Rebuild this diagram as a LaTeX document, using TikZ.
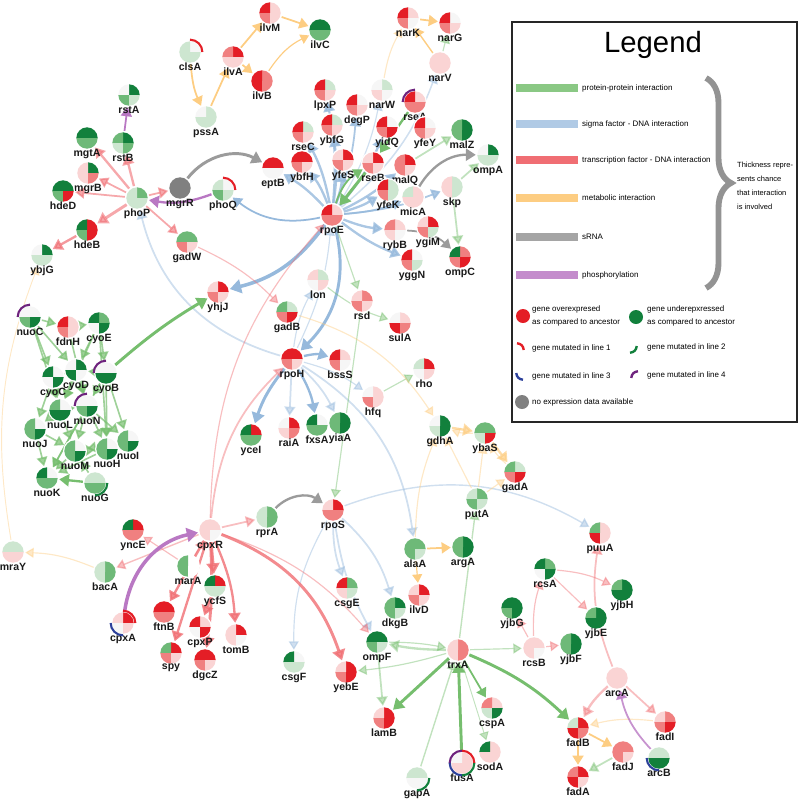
\documentclass[tikz,border=0pt]{standalone}
\usepackage{fontspec}
\setmainfont{Liberation Sans}
\usetikzlibrary{arrows.meta,positioning,decorations.pathreplacing}
\pgfdeclarelayer{bg}
\pgfsetlayers{bg,main}

\definecolor{Rd}{RGB}{228,30,38}
\definecolor{Rm}{RGB}{240,128,128}
\definecolor{Rp}{RGB}{250,212,212}
\definecolor{Gd}{RGB}{18,128,60}
\definecolor{Gm}{RGB}{110,185,120}
\definecolor{Gp}{RGB}{205,230,208}
\definecolor{Wh}{RGB}{246,246,246}
\definecolor{Gy}{RGB}{128,128,128}
\definecolor{Mb}{RGB}{45,65,155}
\definecolor{Mp}{RGB}{110,35,125}
\definecolor{ppiC}{RGB}{118,190,110}
\definecolor{sigC}{RGB}{150,185,220}
\definecolor{tfC}{RGB}{240,110,115}
\definecolor{metC}{RGB}{253,205,130}
\definecolor{srnaC}{RGB}{155,155,155}
\definecolor{phosC}{RGB}{185,120,195}

\newcommand{\gr}{0.32cm}
\newcommand{\gene}[7]{%
  \node[gene] (#1) at (#2,#3) {};
  \fill[#4] (#1.center) -- ++(0:\gr) arc[start angle=0,end angle=90,radius=\gr] -- cycle;
  \fill[#5] (#1.center) -- ++(90:\gr) arc[start angle=90,end angle=180,radius=\gr] -- cycle;
  \fill[#6] (#1.center) -- ++(180:\gr) arc[start angle=180,end angle=270,radius=\gr] -- cycle;
  \fill[#7] (#1.center) -- ++(270:\gr) arc[start angle=270,end angle=360,radius=\gr] -- cycle;
  \node[glab,below=-1pt of #1] (#1-l) {#1};
}
\newcommand{\mut}[3]{%
  \draw[#2,line width=1.8pt] ([shift={(#3:0.37cm)}]#1.center) arc[start angle=#3,delta angle=90,radius=0.37cm];
}

\begin{document}
\begin{tikzpicture}[
  x=0.03cm,y=-0.03cm,
  gene/.style={circle,fill=white,minimum size=0.72cm,inner sep=0pt},
  glab/.style={font=\fontsize{9}{10}\selectfont\bfseries,inner sep=0pt,text=black!90},
  gtip/.style={-{Triangle[length=6pt 1.2,width=7pt 1.6]}},
  ppi/.style={gtip,draw=ppiC,line width=#1},
  sig/.style={gtip,draw=sigC,line width=#1},
  tf/.style={gtip,draw=tfC,line width=#1},
  met/.style={gtip,draw=metC,line width=#1},
  srna/.style={gtip,draw=srnaC,line width=#1},
  phos/.style={gtip,draw=phosC,line width=#1},
  pale/.style={opacity=.45},
  legtxt/.style={font=\fontsize{6.8}{10.5}\selectfont,inner sep=0pt,anchor=west},
  legbar/.style={line width=7pt}
]
\useasboundingbox (0,0) rectangle (800,801);

\gene{clsA}{190}{52}{Wh}{Gp}{Gp}{Gp}
\gene{ilvA}{233}{57}{Rd}{Rm}{Rp}{Rp}
\gene{ilvB}{262}{81}{Rm}{Rd}{Rd}{Rm}
\gene{ilvM}{270}{13}{Rp}{Rd}{Rm}{Rp}
\gene{ilvC}{320}{30}{Gd}{Gd}{Gm}{Gm}
\gene{pssA}{206}{117}{Gp}{Wh}{Gp}{Gp}
\gene{narK}{408}{18}{Rp}{Rd}{Rm}{Wh}
\gene{narG}{450}{23}{Wh}{Rd}{Rm}{Rp}
\gene{narV}{440}{63}{Rp}{Rp}{Rp}{Rp}
\gene{narW}{382}{90}{Gp}{Wh}{Rp}{Wh}
\gene{lpxP}{325}{90}{Gp}{Rd}{Rm}{Rp}
\gene{degP}{357}{105}{Wh}{Rd}{Rm}{Rp}
\gene{rseA}{415}{102}{Rp}{Rd}{Rm}{Rm}
\gene{ybfG}{332}{125}{Gp}{Rd}{Rm}{Rp}
\gene{rseC}{303}{132}{Gp}{Rd}{Rm}{Rp}
\gene{yidQ}{387}{127}{Wh}{Rd}{Rm}{Rd}
\gene{yfeY}{425}{128}{Wh}{Rd}{Rm}{Rp}
\gene{malZ}{462}{130}{Gd}{Gm}{Gm}{Gd}
\gene{ompA}{488}{155}{Gd}{Wh}{Gp}{Gp}
\gene{ybfH}{302}{162}{Rd}{Rd}{Rm}{Rp}
\gene{yfeS}{343}{160}{Rd}{Rp}{Rm}{Rp}
\gene{rseB}{373}{163}{Rd}{Rp}{Rm}{Rp}
\gene{malQ}{405}{165}{Rd}{Rm}{Rm}{Rp}
\gene{skp}{452}{187}{Gp}{Rp}{Rp}{Gp}
\gene{yfeK}{388}{190}{Gp}{Rd}{Rm}{Gp}
\gene{micA}{413}{197}{Rp}{Gp}{Rp}{Rp}
\gene{rpoE}{332}{215}{Rp}{Rd}{Rm}{Rm}
\gene{eptB}{273}{168}{Rd}{Rd}{Wh}{Wh}
\gene{rybB}{395}{230}{Rp}{Rm}{Rp}{Wh}
\gene{ygiM}{428}{227}{Rd}{Rp}{Rm}{Gp}
\gene{yggN}{412}{260}{Wh}{Rd}{Rm}{Gp}
\gene{ompC}{460}{257}{Rm}{Gd}{Rm}{Rd}
\gene{lon}{318}{280}{Gp}{Rp}{Wh}{Rp}
\gene{gadB}{287}{312}{Gp}{Gm}{Rm}{Rd}
\gene{rsd}{362}{301}{Rm}{Rp}{Rm}{Rp}
\gene{sulA}{400}{323}{Rp}{Wh}{Rd}{Rm}
\gene{rpoH}{292}{359}{Rd}{Rd}{Rm}{Rp}
\gene{bssS}{340}{360}{Rp}{Rd}{Rm}{Wh}
\gene{rho}{424}{369}{Rd}{Gp}{Wh}{Rp}
\gene{hfq}{373}{397}{Rp}{Wh}{Rm}{Rp}
\gene{yceI}{251}{435}{Rd}{Gd}{Gm}{Gm}
\gene{raiA}{289}{428}{Rd}{Wh}{Rp}{Rm}
\gene{fxsA}{317}{425}{Wh}{Gd}{Gm}{Gm}
\gene{yiaA}{340}{423}{Gd}{Gm}{Gm}{Gd}
\gene{gdhA}{440}{426}{Gd}{Wh}{Gp}{Gd}
\gene{ybaS}{485}{433}{Gm}{Gm}{Gp}{Rd}
\gene{gadA}{515}{472}{Gp}{Gm}{Rm}{Rd}
\gene{putA}{477}{499}{Gm}{Gp}{Gm}{Gp}
\gene{yhjJ}{218}{292}{Rd}{Rp}{Rm}{Rp}
\gene{rstA}{129}{95}{Gd}{Wh}{Gm}{Gp}
\gene{rstB}{123}{143}{Gd}{Gm}{Gp}{Gm}
\gene{mgtA}{87}{138}{Gd}{Gd}{Gm}{Gm}
\gene{mgrB}{88}{173}{Gd}{Rp}{Rp}{Rm}
\gene{hdeD}{63}{191}{Gd}{Gd}{Gm}{Rd}
\gene{phoP}{137}{198}{Gm}{Gp}{Gp}{Gp}
\gene{mgrR}{180}{188}{Gy}{Gy}{Gy}{Gy}
\gene{phoQ}{223}{190}{Wh}{Gp}{Gm}{Gp}
\gene{hdeB}{87}{230}{Rd}{Gd}{Gm}{Rd}
\gene{gadW}{187}{242}{Gm}{Gm}{Rm}{Rp}
\gene{ybjG}{42}{255}{Gd}{Wh}{Gp}{Gp}
\gene{nuoC}{30}{317}{Wh}{Wh}{Gm}{Gd}
\gene{fdnH}{68}{327}{Rp}{Rd}{Rm}{Rp}
\gene{cyoE}{99}{323}{Gm}{Gd}{Wh}{Gd}
\gene{cyoD}{76}{370}{Gd}{Wh}{Gd}{Wh}
\gene{cyoB}{106}{373}{Wh}{Wh}{Gd}{Gd}
\gene{cyoC}{53}{377}{Wh}{Gd}{Wh}{Gd}
\gene{nuoL}{60}{410}{Wh}{Gm}{Gd}{Gd}
\gene{nuoN}{87}{406}{Wh}{Wh}{Gm}{Gd}
\gene{nuoJ}{35}{429}{Wh}{Gm}{Gm}{Gd}
\gene{nuoI}{128}{441}{Wh}{Gm}{Gm}{Gd}
\gene{nuoM}{75}{451}{Wh}{Gm}{Gm}{Gd}
\gene{nuoH}{107}{449}{Wh}{Gm}{Gm}{Gd}
\gene{nuoK}{47}{478}{Wh}{Gd}{Gm}{Gm}
\gene{nuoG}{95}{483}{Gp}{Gp}{Gm}{Gm}
\gene{mraY}{13}{552}{Gp}{Gp}{Rp}{Rp}
\gene{bacA}{105}{572}{Gm}{Gp}{Gp}{Gm}
\gene{yncE}{133}{530}{Rd}{Gd}{Rm}{Rm}
\gene{cpxR}{210}{530}{Rp}{Rp}{Rp}{Wh}
\gene{marA}{188}{566}{white}{Gm}{Gm}{white}
\gene{ycfS}{215}{586}{Rd}{Gd}{Gp}{Gp}
\gene{ftnB}{164}{612}{Rd}{Rd}{Rm}{Rm}
\gene{cpxA}{123}{623}{Rd}{Rp}{Wh}{Rp}
\gene{cpxP}{200}{627}{Rp}{Rd}{Wh}{Rd}
\gene{tomB}{236}{635}{Rd}{Rp}{Rp}{Wh}
\gene{spy}{171}{653}{Rd}{Gm}{Rm}{Rp}
\gene{dgcZ}{205}{660}{Rd}{Rd}{Rm}{Rp}
\gene{rprA}{267}{517}{Gm}{Gp}{Gp}{Gm}
\gene{csgF}{294}{662}{Wh}{Gd}{Gp}{Gp}
\gene{rpoS}{333}{510}{Rd}{Rp}{Rm}{Rm}
\gene{alaA}{415}{549}{Gm}{Gm}{Gm}{Gp}
\gene{argA}{463}{547}{Gd}{Gm}{Gm}{Gd}
\gene{csgE}{347}{588}{Gm}{Rd}{Rp}{Gp}
\gene{ilvD}{419}{595}{Rd}{Rp}{Rm}{Rp}
\gene{dkgB}{395}{608}{Gd}{Gm}{Gm}{Gp}
\gene{yjbG}{512}{608}{Gd}{Gd}{Gm}{Gd}
\gene{ompF}{377}{642}{Gd}{Gd}{Gm}{Gp}
\gene{trxA}{458}{650}{Rm}{Rp}{Rp}{Rm}
\gene{yebE}{346}{672}{Rd}{Rp}{Rm}{Rd}
\gene{lamB}{384}{718}{Rd}{Rp}{Rm}{Rd}
\gene{cspA}{492}{708}{Rp}{Rm}{Gp}{Gd}
\gene{sodA}{490}{752}{Rp}{Gd}{Rp}{Rp}
\gene{fusA}{462}{763}{Rp}{Wh}{Rp}{Rp}
\gene{gapA}{417}{778}{Gp}{Gp}{Wh}{Wh}
\gene{puuA}{600}{533}{Rp}{Gm}{Rd}{Rp}
\gene{rcsA}{545}{569}{Gm}{Gd}{Wh}{Gd}
\gene{yjbH}{622}{590}{Gd}{Gm}{Gd}{Gd}
\gene{yjbE}{596}{618}{Gd}{Gm}{Gd}{Gd}
\gene{rcsB}{534}{648}{Rp}{Rp}{Rp}{Wh}
\gene{yjbF}{571}{644}{Gd}{Gm}{Gm}{Gd}
\gene{arcA}{617}{678}{Rp}{Rp}{Rp}{Rp}
\gene{fadI}{665}{722}{Rm}{Rp}{Rm}{Rd}
\gene{fadB}{578}{728}{Rd}{Gp}{Rd}{Rm}
\gene{fadJ}{623}{752}{Rm}{Rm}{Rm}{Rp}
\gene{arcB}{659}{758}{Gp}{Gp}{Gd}{Gd}
\gene{fadA}{578}{777}{Rd}{Rm}{Rd}{Rp}

\mut{clsA}{Rd}{0}
\mut{phoQ}{Rd}{0}
\mut{rseA}{Mp}{90}
\mut{nuoC}{Mp}{90}
\mut{cyoB}{Mp}{90}
\mut{nuoN}{Mp}{90}
\mut{nuoG}{Gd}{270}
\mut{cpxA}{Rd}{0}
\mut{cpxA}{Mb}{180}
\mut{fusA}{Rd}{0}
\mut{fusA}{Mp}{90}
\mut{fusA}{Mb}{180}
\mut{fusA}{Gd}{270}
\mut{gapA}{Gd}{270}
\mut{arcB}{Mb}{180}

\begin{pgfonlayer}{bg}
\draw[met=1.5pt] (clsA) to[bend right=10] (pssA);
\draw[met=1.5pt] (pssA) -- (ilvA);
\draw[met=1.5pt] (ilvA) -- (ilvM);
\draw[met=1.5pt] (ilvA) -- (ilvB);
\draw[met=1.5pt] (ilvM) -- (ilvC);
\draw[met=1pt] (ilvB) to[bend left=15] (ilvC);
\draw[met=1pt,pale] (narW) to[bend left=10] (narK);
\draw[met=1.2pt] (narV) -- (narK);
\draw[met=1.5pt] (narK) -- (narG);
\draw[ppi=1pt,pale] (narV) -- (narG);

\foreach \g/\w in {eptB/2pt,ybfH/2pt,rseC/2pt,ybfG/1.8pt,lpxP/1.8pt,yfeS/2pt,degP/1.5pt,yidQ/2pt,malQ/2pt,yfeK/2pt,micA/1.5pt,skp/1.5pt,rybB/2pt,yggN/2pt}
  \draw[sig=\w,opacity=.8] (rpoE) to[bend right=8] (\g);
\draw[sig=1pt,pale] (rpoE) to[bend right=10] (narW);
\draw[sig=1.3pt,pale] (rpoE) to[bend right=15] (narV);
\draw[sig=1.5pt] (rpoE) to[bend left=25] (phoQ);
\draw[sig=3pt] (rpoE) to[bend left=20] (yhjJ);
\draw[sig=2.5pt] (rpoE) to[bend left=30] (rpoH);
\draw[sig=1pt,pale] (rpoH) to[bend right=10] (rpoE);
\draw[sig=1pt,pale] (rpoH) to[bend left=10] (lon);
\draw[sig=1.5pt,pale] (rpoH) to[bend left=30] (phoP);
\draw[sig=2pt] (rpoH) to[bend left=15] (bssS);
\draw[sig=1pt,pale] (rpoH) to[bend left=10] (hfq);
\draw[sig=2.5pt] (rpoH) to[bend right=10] (yceI);
\draw[sig=1.5pt,pale] (rpoH) -- (raiA);
\draw[sig=2pt] (rpoH) to[bend left=10] (fxsA);
\draw[sig=1.5pt,pale] (rpoH) to[bend left=10] (yiaA);
\draw[sig=1.5pt,pale] (rpoH) to[bend left=25] (alaA);
\draw[sig=1.5pt,pale] (rpoS) to[bend right=10] (csgE);
\draw[sig=1.5pt,pale] (rpoS) to[bend left=15] (dkgB);
\draw[sig=1.5pt,pale] (rpoS) to[bend right=10] (ompF);
\draw[sig=1pt,pale] (rpoS) to[bend right=15] (csgF);
\draw[sig=1.2pt,pale] (rpoS) to[bend left=25] (puuA);

\draw[ppi=2pt] (rseA) -- (rseB);
\draw[ppi=2.5pt] (rseB) -- (rpoE);
\draw[ppi=1.5pt] (rpoE) to[bend left=20] (rseB);
\draw[ppi=1.5pt,pale] (malQ) -- (malZ);
\draw[ppi=1.5pt,pale] (skp) -- (ompA);
\draw[ppi=1.5pt,pale] (skp) -- (ompC);
\draw[ppi=1pt,pale] (rpoE) -- (rsd);
\draw[ppi=1pt,pale] (lon) to[bend right=10] (sulA);
\draw[ppi=1pt,pale] (rsd) -- (rpoS);
\draw[ppi=1pt,pale] (hfq) -- (rho);
\draw[ppi=2.5pt] (cyoB) to[bend left=5] (yhjJ);
\draw[ppi=1.2pt,pale] (trxA) -- (putA);
\draw[ppi=2pt,pale] (trxA) to[bend left=5] (ompF);
\draw[ppi=1pt,pale] (ompF) to[bend left=5] (trxA);
\draw[ppi=1pt,pale] (trxA) to[bend left=5] (yebE);
\draw[ppi=1.5pt,pale] (ompF) -- (lamB);
\draw[ppi=2.5pt] (trxA) -- (lamB);
\draw[ppi=1.5pt] (trxA) -- (cspA);
\draw[ppi=0.8pt,pale] (trxA) -- (sodA);
\draw[ppi=2.5pt] (fusA) -- (trxA);
\draw[ppi=1.2pt,pale] (gapA) -- (trxA);
\draw[ppi=1pt,pale] (trxA) -- (rcsB);
\draw[ppi=2.5pt] (trxA) to[bend left=10] (fadB);
\draw[ppi=1.5pt,pale] (fadJ) -- (fadA);
\draw[ppi=2pt] (nuoG) -- (nuoK);
\foreach \a/\b in {nuoC/fdnH,nuoC/cyoC,nuoC/cyoD,nuoC/nuoL,fdnH/cyoE,fdnH/nuoN,cyoE/cyoD,cyoE/cyoB,cyoE/nuoL,cyoB/cyoD,cyoD/cyoC,cyoC/nuoL,cyoC/nuoJ,cyoD/nuoL,cyoD/nuoN,cyoB/nuoN,cyoB/nuoI,cyoB/nuoH,cyoB/nuoK,nuoL/nuoN,nuoL/nuoJ,nuoL/nuoM,nuoN/nuoM,nuoN/nuoH,nuoN/nuoI,nuoN/nuoK,nuoJ/nuoK,nuoJ/nuoM,nuoM/nuoK,nuoH/nuoK,nuoH/nuoI,nuoM/nuoH,nuoG/nuoM,nuoI/nuoM,cyoE/nuoH}
  \draw[ppi=1.4pt,opacity=.7] (\a) -- (\b);

\foreach \g/\w in {mgtA/2pt,rstB/2pt,mgrB/1.5pt,hdeD/1.5pt,hdeB/2.5pt,mgrR/1.5pt,gadW/1.5pt}
  \draw[tf=\w,opacity=.6] (phoP) -- (\g);
\draw[tf=2pt,opacity=.7] (hdeB) -- (ybjG);
\draw[tf=1pt,pale] (gadW) to[bend left=10] (gadB);
\draw[tf=1.5pt,pale] (cpxR) -- (rprA);
\draw[tf=1.5pt,pale] (cpxR) to[bend left=20] (rpoH);
\draw[tf=1pt,pale] (cpxR) to[bend left=20] (rpoE);
\draw[tf=1.2pt,pale] (cpxR) -- (bacA);
\draw[tf=1pt,pale] (marA) -- (yncE);
\draw[tf=1pt,pale] (marA) -- (cpxR);
\draw[tf=2.5pt,opacity=.8] (cpxR) -- (ycfS);
\draw[tf=2pt,opacity=.8] (cpxR) -- (ftnB);
\draw[tf=2pt,opacity=.8] (cpxR) -- (spy);
\draw[tf=2pt,opacity=.8] (ycfS) -- (cpxP);
\draw[tf=2.5pt,opacity=.8] (cpxR) to[bend left=5] (dgcZ);
\draw[tf=2pt,opacity=.8] (cpxR) to[bend left=10] (tomB);
\draw[tf=2.5pt,opacity=.8] (cpxR) to[bend left=25] (yebE);
\draw[tf=1pt,pale] (cpxR) to[bend left=15] (ompF);
\draw[tf=1pt,pale] (rcsB) to[bend left=10] (rcsA);
\draw[tf=1pt,pale] (rcsB) -- (yjbG);
\draw[tf=1pt,pale] (rcsB) -- (yjbF);
\draw[tf=1pt,pale] (rcsA) to[bend left=10] (yjbH);
\draw[tf=1pt,pale] (rcsA) -- (yjbE);
\draw[tf=1.5pt,pale] (arcA) to[bend left=15] (puuA);
\draw[tf=1.5pt,pale] (arcA) -- (fadI);
\draw[tf=2pt,pale] (arcA) to[bend right=10] (fadB);

\draw[met=1pt,pale] (gadB) to[bend left=20] (gdhA);
\draw[met=2pt,opacity=.7] (gdhA) -- (ybaS);
\draw[met=1pt,pale] (ybaS) to[bend left=10] (gdhA);
\draw[met=2pt,opacity=.7] (ybaS) -- (gadA);
\draw[met=1pt,pale] (gadA) to[bend left=10] (ybaS);
\draw[met=1pt,pale] (putA) -- (gdhA);
\draw[met=1pt,pale] (putA) -- (ybaS);
\draw[met=1pt,pale] (putA) -- (gadA);
\draw[met=1pt,pale] (alaA) to[bend left=10] (gdhA);
\draw[met=1.5pt] (alaA) -- (argA);
\draw[met=1pt] (alaA) -- (ilvD);
\draw[met=1pt,pale] (bacA) to[bend right=10] (mraY);
\draw[met=0.8pt,pale] (mraY) to[bend left=15] (ybjG);
\draw[met=1pt,pale] (fadI) to[bend right=10] (fadB);
\draw[met=1.5pt] (fadB) -- (fadJ);
\draw[met=1.5pt] (fadB) -- (fadA);

\draw[srna=2.5pt] (mgrR) to[bend left=40] (eptB);
\draw[srna=2pt] (rprA) to[bend left=40] (rpoS);
\draw[srna=2pt] (micA) to[bend left=30] (ompA);
\draw[srna=1.5pt] (rybB) to[bend left=20] (ompC);

\draw[phos=1.5pt] (rstB) -- (rstA);
\draw[phos=2pt] (phoQ) to[bend left=15] (phoP);
\draw[phos=3pt] (cpxA) to[bend left=35] (cpxR);
\draw[phos=1.5pt,opacity=.8] (arcB) to[bend left=15] (arcA);
\end{pgfonlayer}

\draw[line width=1.2pt,draw=black!85] (512,22) rectangle (797,422);
\node[font=\fontsize{25}{27}\selectfont] (legtitle) at (653,45) {Legend};
\draw[legbar,ppiC!85] (516,88) -- (578,88);
\draw[legbar,sigC!75] (516,124) -- (578,124);
\draw[legbar,tfC] (516,160) -- (578,160);
\draw[legbar,metC] (516,198) -- (578,198);
\draw[legbar,srnaC!90] (516,237) -- (578,237);
\draw[legbar,phosC!85] (516,275) -- (578,275);
\node[legtxt] (lppi) at (582,88) {protein-protein interaction};
\node[legtxt] (lsig) at (582,124) {sigma factor - DNA interaction};
\node[legtxt] (ltf) at (582,160) {transcription factor - DNA interaction};
\node[legtxt] (lmet) at (582,198) {metabolic interaction};
\node[legtxt] (lsrna) at (582,237) {sRNA};
\node[legtxt] (lphos) at (582,275) {phosphorylation};
\draw[Gy!85,line width=5pt,decorate,decoration={brace,amplitude=0.75cm}] (706,78) -- (706,288);
\node[legtxt,anchor=north west,align=left,font=\fontsize{6.4}{12}\selectfont] (lthick) at (737,162) {Thickness repre-\\sents chance\\that interaction\\is involved};

\node[circle,fill=Rd,minimum size=0.42cm,inner sep=0pt] (lover) at (523,316) {};
\node[legtxt,align=left,anchor=west] (lovert) at (532,316) {gene overexpresed\\as compared to ancestor};
\node[circle,fill=Gd,minimum size=0.42cm,inner sep=0pt] (lunder) at (636,317) {};
\node[legtxt,align=left,anchor=west] (lundert) at (647,316) {gene underepxressed\\as compared to ancestor};
\coordinate (lm1) at (517,350);
\draw[Rd,line width=2pt] ([shift={(0:0.2cm)}]lm1) arc[start angle=0,delta angle=90,radius=0.2cm];
\node[legtxt] (lm1t) at (532,348) {gene mutated in line 1};
\coordinate (lm2) at (630,346);
\draw[Gd,line width=2pt] ([shift={(270:0.2cm)}]lm2) arc[start angle=270,delta angle=90,radius=0.2cm];
\node[legtxt] (lm2t) at (647,347) {gene mutated in line 2};
\coordinate (lm3) at (523,373);
\draw[Mb,line width=2pt] ([shift={(180:0.2cm)}]lm3) arc[start angle=180,delta angle=90,radius=0.2cm];
\node[legtxt] (lm3t) at (532,376) {gene mutated in line 3};
\coordinate (lm4) at (638,378);
\draw[Mp,line width=2pt] ([shift={(90:0.2cm)}]lm4) arc[start angle=90,delta angle=90,radius=0.2cm];
\node[legtxt] (lm4t) at (647,375) {gene mutated in line 4};
\node[circle,fill=Gy,minimum size=0.42cm,inner sep=0pt] (lnone) at (522,402) {};
\node[legtxt] (lnonet) at (532,402) {no expression data available};
\end{tikzpicture}
\end{document}
